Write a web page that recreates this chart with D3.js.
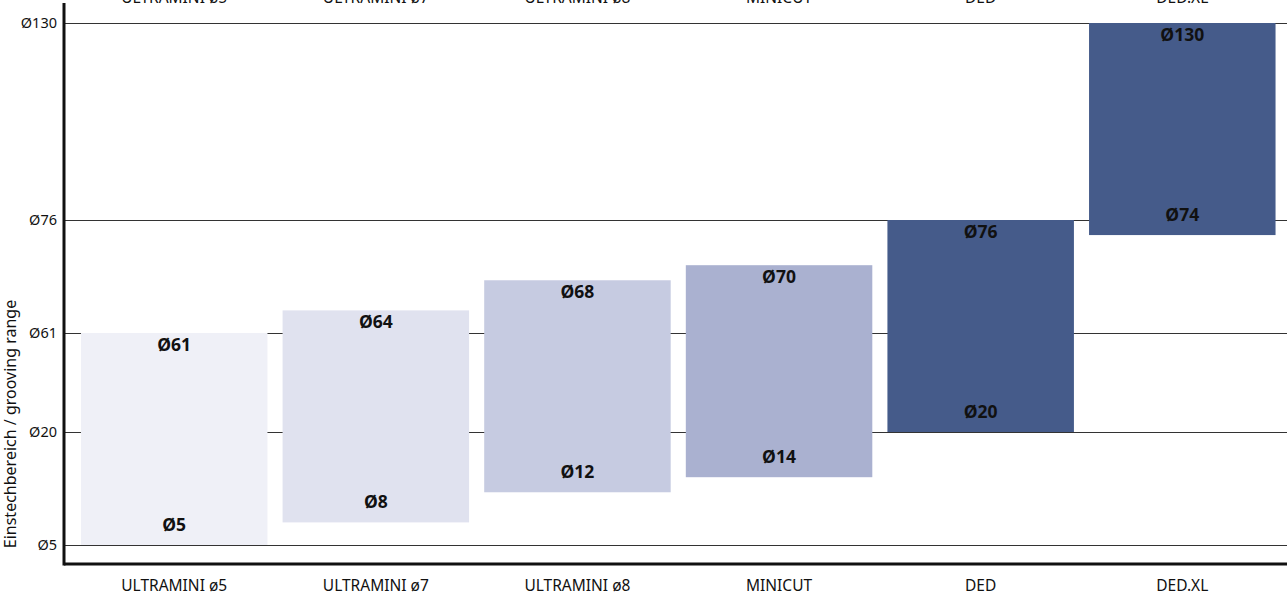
<!DOCTYPE html>
<html>
<head>
<meta charset="utf-8">
<script src="https://cdn.jsdelivr.net/npm/d3@7"></script>
<style>
  body { margin: 0; background: #fff; }
  svg { display: block; font-family: "Noto Sans", "Open Sans", sans-serif; }
</style>
</head>
<body>
<svg id="chart" width="1287" height="595"></svg>
<script>
// --- Data ---
const categories = ["ULTRAMINI ø5", "ULTRAMINI ø7", "ULTRAMINI ø8", "MINICUT", "DED", "DED.XL"];
const rangeMin = [5, 8, 12, 14, 20, 74];
const rangeMax = [61, 64, 68, 70, 76, 130];
const barColors = ["#eff0f7", "#e0e2ef", "#c6cbe1", "#aab1d0", "#455b8a", "#455b8a"];
const yTicks = [5, 20, 61, 76, 130];

// --- Layout ---
const width = 1287, height = 595;
const svg = d3.select("#chart");
const axisX = 64, axisY = 564;

// piecewise scale between the marked diameters
const y = d3.scaleLinear()
    .domain(yTicks)
    .range([545, 432, 333, 220, 23]);

const x = d3.scaleBand()
    .domain(categories)
    .range([73.5, 1283])
    .paddingInner(0.075)
    .paddingOuter(0.037);

const bars = categories.map((c, i) => ({
    name: c, lo: rangeMin[i], hi: rangeMax[i], color: barColors[i]
}));

// --- Gridlines + tick labels ---
const yAxis = svg.append("g")
    .attr("transform", `translate(${axisX},0)`)
    .call(d3.axisLeft(y).tickValues(yTicks).tickSize(0).tickPadding(7)
        .tickFormat(d => "Ø" + d));
yAxis.select(".domain").remove();
yAxis.selectAll("text")
    .attr("font-family", "Noto Sans, sans-serif")
    .attr("font-size", "14.5px")
    .attr("fill", "#111");
yAxis.selectAll(".tick").append("line")
    .attr("x1", 0).attr("x2", width - axisX)
    .attr("stroke", "#333")
    .attr("stroke-width", 1);

// --- Bars ---
svg.append("g").selectAll("rect")
    .data(bars)
    .join("rect")
    .attr("x", d => x(d.name))
    .attr("width", x.bandwidth())
    .attr("y", d => y(d.hi))
    .attr("height", d => y(d.lo) - y(d.hi))
    .attr("fill", d => d.color);

// --- Value labels ---
const lbl = svg.append("g")
    .attr("font-size", "17.5px")
    .attr("font-weight", "bold")
    .attr("text-anchor", "middle")
    .attr("fill", "#111");
lbl.selectAll(".top")
    .data(bars)
    .join("text")
    .attr("x", d => x(d.name) + x.bandwidth() / 2)
    .attr("y", d => y(d.hi) + 18)
    .text(d => "Ø" + d.hi);
lbl.selectAll(".bot")
    .data(bars)
    .join("text")
    .attr("x", d => x(d.name) + x.bandwidth() / 2)
    .attr("y", d => y(d.lo) - 14)
    .text(d => "Ø" + d.lo);

// --- Category labels (bottom and cut-off top) ---
const xb = svg.append("g")
    .attr("transform", `translate(0,${axisY})`)
    .call(d3.axisBottom(x).tickSize(0).tickPadding(16));
xb.select(".domain").remove();
xb.selectAll("text")
    .attr("font-family", "Noto Sans, sans-serif")
    .attr("font-size", "15.5px")
    .attr("fill", "#111");

const xt = svg.append("g")
    .attr("transform", "translate(0,3)")
    .call(d3.axisTop(x).tickSize(0).tickPadding(0));
xt.select(".domain").remove();
xt.selectAll("text")
    .attr("font-family", "Noto Sans, sans-serif")
    .attr("font-size", "15.5px")
    .attr("fill", "#111");

// --- Axis lines ---
svg.append("line")
    .attr("x1", axisX).attr("x2", axisX)
    .attr("y1", 3).attr("y2", axisY + 1.5)
    .attr("stroke", "#111").attr("stroke-width", 3);
svg.append("line")
    .attr("x1", axisX).attr("x2", width)
    .attr("y1", axisY).attr("y2", axisY)
    .attr("stroke", "#111").attr("stroke-width", 3);

// --- Y title ---
svg.append("text")
    .attr("transform", "translate(16,424) rotate(-90)")
    .attr("text-anchor", "middle")
    .attr("font-size", "16px")
    .attr("fill", "#111")
    .text("Einstechbereich / grooving range");
</script>
</body>
</html>
